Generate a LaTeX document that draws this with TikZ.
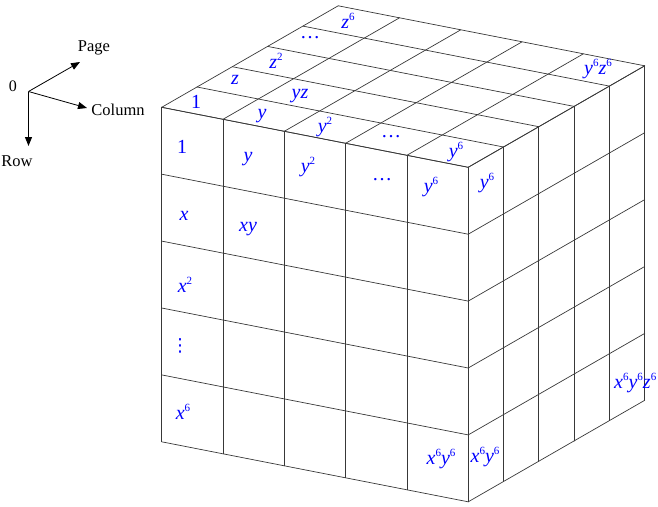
\documentclass[tikz,border=0pt]{standalone}
\usepackage{fontspec}
\setmainfont{Liberation Serif}
\newfontfamily\symfont{DejaVu Sans}
\usetikzlibrary{arrows.meta}
\newcommand\mypow[2]{\textit{#1}\raisebox{0.42em}{\fontsize{11}{11}\selectfont #2}}
\begin{document}
\begin{tikzpicture}[x=1pt,y=-1pt,
  grid/.style={draw=black!78,line width=0.7pt,line cap=round},
  lab/.style={text=blue,font=\fontsize{20}{24}\selectfont,inner sep=0pt},
  axlab/.style={font=\fontsize{16.5}{19}\selectfont,inner sep=0pt},
  axarrow/.style={-{Triangle[length=9pt,width=7pt]},line width=0.8pt}]
\useasboundingbox (0,0) rectangle (658,506);
% cube grid
\begin{scope}[shift={(161.7,107.3)},x={(61.3pt,-12pt)},y={(0pt,-66.9pt)},z={(35.3pt,20.3pt)}]
\foreach \i in {0,...,5}{
  \draw[grid] (\i,0,0) -- (\i,5,0);
  \draw[grid] (0,\i,0) -- (5,\i,0);
  \draw[grid] (\i,0,0) -- (\i,0,5);
  \draw[grid] (0,0,\i) -- (5,0,\i);
  \draw[grid] (5,0,\i) -- (5,5,\i);
  \draw[grid] (5,\i,0) -- (5,\i,5);
}
\end{scope}
% top face labels
\node[lab] (t1) at (196,102) {1};
\node[lab] (tz) at (235,80) {\textit{z}};
\node[lab] (tz2) at (276,61) {\mypow{z}{2}};
\node[lab] (tzd) at (310,38) {…};
\node[lab] (tz6) at (348,21) {\mypow{z}{6}};
\node[lab] (ty) at (262,116) {\textit{y}};
\node[lab] (tyz) at (300,96) {\textit{yz}};
\node[lab] (ty2) at (325,127) {\mypow{y}{2}};
\node[lab] (tyd) at (391,137) {…};
\node[lab] (ty6) at (456,152) {\mypow{y}{6}};
\node[lab] (ty6z6) at (598,69) {\mypow{y}{6}\mypow{z}{6}};
% front face labels
\node[lab] (f1) at (182,147) {1};
\node[lab] (fy) at (248,159) {\textit{y}};
\node[lab] (fy2) at (308,167) {\mypow{y}{2}};
\node[lab] (fyd) at (382,180) {…};
\node[lab] (fy6) at (431,187) {\mypow{y}{6}};
\node[lab] (ry6) at (487,183) {\mypow{y}{6}};
\node[lab] (fx) at (184,216) {\textit{x}};
\node[lab] (fxy) at (248,229) {\textit{xy}};
\node[lab] (fx2) at (185,285) {\mypow{x}{2}};
\node[lab,font=\fontsize{18}{20}\symfont] (fxd) at (180,346) {⋮};
\node[lab] (fx6) at (183,412) {\mypow{x}{6}};
\node[lab] (fx6y6) at (441,459) {\mypow{x}{6}\mypow{y}{6}};
\node[lab] (rx6y6) at (485,457) {\mypow{x}{6}\mypow{y}{6}};
\node[lab,anchor=west] (rx6y6z6) at (614,383) {\mypow{x}{6}\mypow{y}{6}\mypow{z}{6}};
% axes
\coordinate (o) at (28.5,91.5);
\coordinate (ptip) at (80,62);
\coordinate (ctip) at (87,108);
\coordinate (rtip) at (28.5,146);
\node[font=\fontsize{16}{18}\selectfont,inner sep=0pt] (zero) at (13,86) {0};
\node[axlab] (page) at (94,48) {Page};
\node[axlab] (col) at (118,110) {Column};
\node[axlab] (row) at (17,161) {Row};
\draw[axarrow] (o) -- (ptip);
\draw[axarrow] (o) -- (ctip);
\draw[axarrow] (o) -- (rtip);
\end{tikzpicture}
\end{document}
